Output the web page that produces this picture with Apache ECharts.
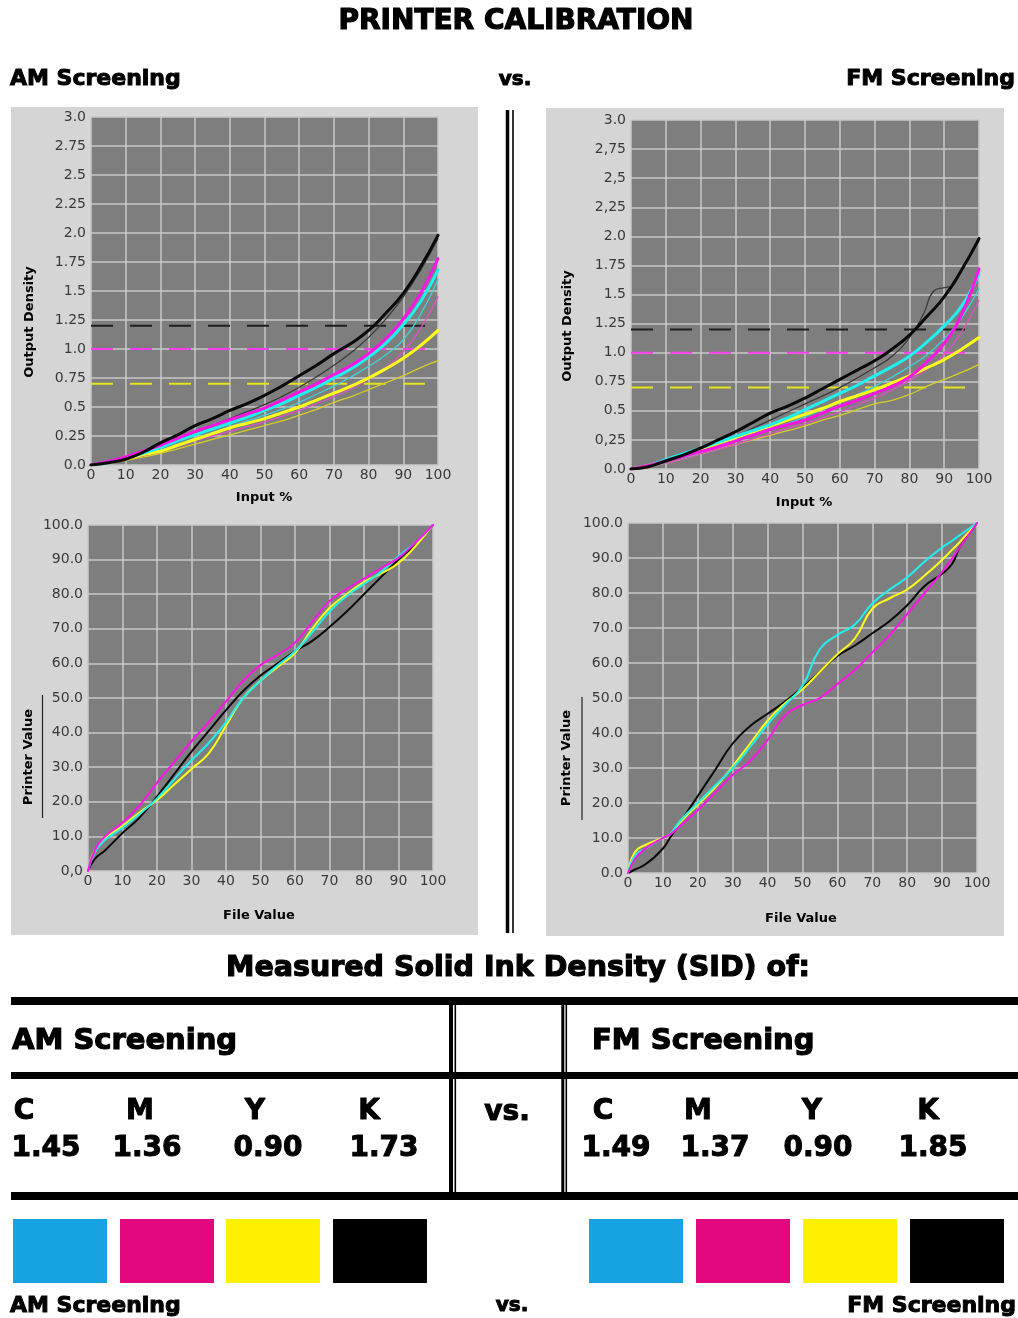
<!DOCTYPE html>
<html>
<head>
<meta charset="utf-8">
<title>Printer Calibration</title>
<script src="https://cdn.jsdelivr.net/npm/echarts@6/dist/echarts.min.js"></script>
<style>
  html, body { margin: 0; padding: 0; background: #ffffff; }
  #chart { width: 1018px; height: 1318px; }
</style>
</head>
<body>
<div id="chart"></div>
<script>
// ---------- Density curves (Input % -> Output Density) ----------
const densityInput = [0, 5, 10, 15, 20, 25, 30, 35, 40, 45, 50, 55, 60, 65, 70, 75, 80, 85, 90, 95, 100];

// AM screening, measured
const amDensityK = [0, 0.02, 0.05, 0.11, 0.19, 0.26, 0.34, 0.40, 0.47, 0.53, 0.60, 0.68, 0.77, 0.86, 0.96, 1.05, 1.16, 1.31, 1.48, 1.71, 1.98];
const amDensityM = [0, 0.03, 0.07, 0.12, 0.17, 0.23, 0.29, 0.34, 0.39, 0.44, 0.49, 0.56, 0.63, 0.70, 0.78, 0.86, 0.96, 1.09, 1.26, 1.48, 1.78];
const amDensityC = [0, 0.02, 0.06, 0.10, 0.15, 0.21, 0.26, 0.31, 0.36, 0.41, 0.47, 0.53, 0.60, 0.67, 0.75, 0.83, 0.93, 1.05, 1.21, 1.41, 1.68];
const amDensityY = [0, 0.02, 0.05, 0.09, 0.12, 0.17, 0.22, 0.27, 0.32, 0.36, 0.40, 0.45, 0.50, 0.56, 0.62, 0.68, 0.75, 0.83, 0.92, 1.03, 1.16];
// AM screening, reference (thin)
const amRefK = [0, 0.02, 0.05, 0.10, 0.16, 0.22, 0.28, 0.34, 0.40, 0.46, 0.52, 0.59, 0.67, 0.76, 0.86, 0.97, 1.10, 1.26, 1.45, 1.68, 1.95];
const amRefC = [0, 0.02, 0.05, 0.09, 0.13, 0.18, 0.23, 0.28, 0.33, 0.38, 0.43, 0.48, 0.54, 0.61, 0.68, 0.76, 0.85, 0.95, 1.08, 1.30, 1.60];
const amRefM = [0, 0.02, 0.05, 0.08, 0.12, 0.16, 0.21, 0.25, 0.29, 0.33, 0.37, 0.42, 0.47, 0.53, 0.59, 0.66, 0.74, 0.84, 0.98, 1.18, 1.45];
const amRefY = [0, 0.02, 0.04, 0.07, 0.10, 0.14, 0.18, 0.22, 0.26, 0.30, 0.34, 0.38, 0.43, 0.48, 0.54, 0.59, 0.65, 0.71, 0.77, 0.84, 0.90];

// FM screening, measured
const fmDensityK = [0, 0.02, 0.07, 0.12, 0.18, 0.25, 0.32, 0.40, 0.48, 0.54, 0.61, 0.69, 0.77, 0.85, 0.93, 1.03, 1.15, 1.31, 1.48, 1.71, 1.98];
const fmDensityC = [0, 0.03, 0.08, 0.13, 0.18, 0.23, 0.28, 0.33, 0.38, 0.44, 0.51, 0.58, 0.65, 0.72, 0.80, 0.88, 0.97, 1.09, 1.23, 1.40, 1.68];
const fmDensityM = [0, 0.03, 0.07, 0.11, 0.15, 0.19, 0.24, 0.29, 0.34, 0.38, 0.42, 0.48, 0.54, 0.59, 0.65, 0.71, 0.79, 0.92, 1.08, 1.33, 1.72];
const fmDensityY = [0, 0.03, 0.07, 0.12, 0.17, 0.22, 0.27, 0.32, 0.37, 0.42, 0.47, 0.52, 0.58, 0.63, 0.68, 0.74, 0.80, 0.87, 0.94, 1.03, 1.13];
// FM screening, reference (thin)
const fmRefKInput = [0, 10, 20, 30, 40, 50, 60, 70, 75, 80, 84, 87, 90, 92, 95, 100];
const fmRefK = [0, 0.06, 0.16, 0.28, 0.42, 0.56, 0.70, 0.87, 0.97, 1.13, 1.33, 1.53, 1.56, 1.57, 1.71, 1.96];
const fmRefC = [0, 0.02, 0.06, 0.10, 0.14, 0.19, 0.24, 0.29, 0.34, 0.39, 0.45, 0.51, 0.57, 0.64, 0.71, 0.79, 0.88, 0.98, 1.12, 1.30, 1.55];
const fmRefM = [0, 0.02, 0.05, 0.09, 0.13, 0.17, 0.21, 0.26, 0.30, 0.35, 0.39, 0.44, 0.49, 0.55, 0.61, 0.68, 0.76, 0.86, 0.98, 1.18, 1.45];
const fmRefY = [0, 0.02, 0.05, 0.09, 0.13, 0.17, 0.21, 0.25, 0.29, 0.33, 0.37, 0.42, 0.46, 0.51, 0.56, 0.59, 0.64, 0.71, 0.77, 0.83, 0.90];

// Target solid densities (dashed): K, M, Y
const targetDensity = [1.2, 1.0, 0.7];

// ---------- Linearization curves (File Value -> Printer Value) ----------
const amFileValue = [0, 2, 5, 10, 15, 20, 25, 30, 35, 40, 45, 50, 55, 60, 65, 70, 75, 80, 85, 90, 95, 100];
const amPrinterK = [0, 3.5, 6, 11, 15.5, 21.5, 28, 34.5, 40.5, 46.5, 52, 56.5, 60, 63.5, 66.5, 70.5, 75, 80, 85, 90, 94.5, 100];
const amPrinterM = [0, 6, 10, 14, 19, 25.5, 31.5, 37.5, 43, 49, 55, 59.5, 62.5, 66, 72, 78, 81.5, 84.5, 87.5, 90.5, 95, 100];
const amPrinterC = [0, 5.5, 9, 12.5, 16.5, 21, 26.5, 32, 37, 43, 50, 55, 59.5, 63.5, 69, 75, 79.5, 83, 86.5, 91, 95, 100];
const amPrinterY = [0, 6, 9.5, 13, 17, 20.5, 25, 29.5, 34, 42, 50, 55, 59, 63, 70, 76, 80, 83.5, 86, 89, 94, 100];

const fmFileValue = [0, 2, 5, 10, 12, 15, 20, 25, 30, 35, 40, 45, 50, 55, 60, 65, 70, 75, 80, 85, 90, 93, 95, 100];
const fmPrinterK = [0, 1, 2.5, 7, 10, 14.5, 22, 29.5, 37, 42, 45.5, 49, 53, 57.5, 62, 65, 68.5, 72, 76.5, 82, 85.5, 88.5, 93, 100];
const fmPrinterM = [0, 4, 7, 10, 11, 13.5, 18, 23, 28, 32, 38, 45, 48, 50, 54, 58, 63, 68, 74, 80, 86, 90, 93, 100];
const fmPrinterC = [0, 5, 7, 10, 11, 15, 20, 25, 30, 36, 42.5, 48, 53.5, 64, 68, 71, 77, 81, 84.5, 89, 93, 95, 96.5, 100];
const fmPrinterY = [0, 6, 8, 10, 11, 14.5, 19.5, 24.5, 30.5, 37, 43.5, 48.5, 52.5, 57.5, 62.5, 67, 75.5, 78.5, 81, 85, 89.5, 92.5, 94.5, 100];

// ---------- Tick labels ----------
const amDensityTicks = ['0.0', '0.25', '0.5', '0.75', '1.0', '1.25', '1.5', '1.75', '2.0', '2.25', '2.5', '2.75', '3.0'];
const fmDensityTicks = ['0.0', '0,25', '0.5', '0.75', '1.0', '1.25', '1.5', '1.75', '2.0', '2,25', '2,5', '2,75', '3.0'];
const amPrinterTicks = ['0,0', '10.0', '20.0', '30.0', '40.0', '50.0', '60.0', '70.0', '80.0', '90.0', '100.0'];
const fmPrinterTicks = ['0.0', '10.0', '20.0', '30.0', '40.0', '50.0', '60.0', '70.0', '80.0', '90.0', '100.0'];

// ---------- Solid ink density table ----------
const inkNames = ['C', 'M', 'Y', 'K'];
const amSID = ['1.45', '1.36', '0.90', '1.73'];
const fmSID = ['1.49', '1.37', '0.90', '1.85'];

// ---------- Styling ----------
const INK = { C: '#1ff0f0', M: '#ff14e6', Y: '#ffff1a', K: '#0a0a0a' };
const INK_THIN = { C: '#3fd2d6', M: '#de52c4', Y: '#d6cc2a', K: '#3a3a3a' };
const TARGET = ['#1e1e1e', '#ff3cf0', '#e4e41c'];
const SWATCH = { C: '#17a3e1', M: '#e4087f', Y: '#fff000', K: '#000000' };
const LABEL_FONT = 'DejaVu Sans';
const HEAD_FONT = 'DejaVu Sans';

const grids = [
  { left: 91, top: 117, width: 347, height: 348 },
  { left: 631, top: 120, width: 348, height: 349 },
  { left: 88, top: 525, width: 345, height: 346 },
  { left: 628, top: 523, width: 349, height: 350 }
];

function xAxisFor(i) {
  return {
    type: 'value', gridIndex: i, min: 0, max: 100, interval: 10,
    axisLine: { show: false }, axisTick: { show: false },
    splitLine: { show: true, lineStyle: { color: '#c9c9c9', width: 1.5 } },
    axisLabel: { color: '#3a3a3a', fontFamily: LABEL_FONT, fontSize: 14, margin: 3 }
  };
}
function yAxisFor(i, max, interval, labels) {
  return {
    type: 'value', gridIndex: i, min: 0, max: max, interval: interval,
    axisLine: { show: false }, axisTick: { show: false },
    splitLine: { show: true, lineStyle: { color: '#c9c9c9', width: 1.5 } },
    axisLabel: {
      color: '#3a3a3a', fontFamily: LABEL_FONT, fontSize: 14, margin: 5,
      formatter: function (v) { return labels[Math.round(v / interval)]; }
    }
  };
}

function curve(gi, xs, ys, color, width) {
  return {
    type: 'line', xAxisIndex: gi, yAxisIndex: gi,
    data: xs.map(function (x, k) { return [x, ys[k]]; }),
    smooth: 0.5, symbol: 'none', silent: true,
    lineStyle: { color: color, width: width, cap: 'round', join: 'round' }
  };
}
function target(gi, value, color) {
  return {
    type: 'line', xAxisIndex: gi, yAxisIndex: gi,
    data: [[0, value], [100, value]], symbol: 'none', silent: true,
    lineStyle: { color: color, width: 2, type: [22, 17] }
  };
}

const series = [];
// Density panels
[[0, amDensityK, amDensityC, amDensityM, amDensityY, densityInput, amRefK, amRefC, amRefM, amRefY],
 [1, fmDensityK, fmDensityC, fmDensityM, fmDensityY, fmRefKInput, fmRefK, fmRefC, fmRefM, fmRefY]
].forEach(function (p) {
  const gi = p[0];
  targetDensity.forEach(function (v, k) { series.push(target(gi, v, TARGET[k])); });
  series.push(curve(gi, densityInput, p[9], INK_THIN.Y, 1.3));
  series.push(curve(gi, densityInput, p[8], INK_THIN.M, 1.3));
  series.push(curve(gi, densityInput, p[7], INK_THIN.C, 1.3));
  series.push(curve(gi, p[5], p[6], INK_THIN.K, 1.3));
  series.push(curve(gi, densityInput, p[4], INK.Y, 3));
  series.push(curve(gi, densityInput, p[2], INK.C, 3));
  series.push(curve(gi, densityInput, p[3], INK.M, 3));
  series.push(curve(gi, densityInput, p[1], INK.K, 3));
});
// Linearization panels
[[2, amFileValue, amPrinterK, amPrinterC, amPrinterM, amPrinterY],
 [3, fmFileValue, fmPrinterK, fmPrinterC, fmPrinterM, fmPrinterY]
].forEach(function (p) {
  const gi = p[0];
  series.push(curve(gi, p[1], p[2], INK.K, 2));
  series.push(curve(gi, p[1], p[5], INK.Y, 2));
  series.push(curve(gi, p[1], p[3], INK.C, 2));
  series.push(curve(gi, p[1], p[4], INK.M, 2));
});

// ---------- Static page elements ----------
function txt(text, x, y, size, opts) {
  opts = opts || {};
  const heavy = opts.heavy !== undefined ? opts.heavy : 0;
  return {
    type: 'text', x: x, y: y, rotation: opts.rotation || 0, z: 50,
    style: {
      text: text, fill: opts.fill || '#000',
      stroke: heavy ? '#000' : null, lineWidth: heavy,
      font: (opts.weight || 'bold') + ' ' + size + 'px "' + (opts.family || HEAD_FONT) + '"',
      textAlign: opts.align || 'left', textVerticalAlign: 'middle'
    }
  };
}
function hline(x1, x2, y, w) {
  return { type: 'line', z: 50, shape: { x1: x1, y1: y, x2: x2, y2: y }, style: { stroke: '#000', lineWidth: w } };
}
function vline(x, y1, y2, w) {
  return { type: 'line', z: 50, shape: { x1: x, y1: y1, x2: x, y2: y2 }, style: { stroke: '#000', lineWidth: w } };
}
function rect(x, y, w, h, fill, z) {
  return { type: 'rect', z: z, shape: { x: x, y: y, width: w, height: h }, style: { fill: fill } };
}

const graphics = [
  // panel backgrounds
  rect(11, 107, 467, 828, '#d5d5d5', -100),
  rect(546, 108, 458, 828, '#d5d5d5', -100),
  // page heading
  txt('PRINTER CALIBRATION', 516, 22, 28, { align: 'center', heavy: 1.2 }),
  txt('AM Screening', 10, 79, 22, { heavy: 1 }),
  txt('vs.', 515, 80, 20, { align: 'center', heavy: 1 }),
  txt('FM Screening', 1015, 79, 22, { align: 'right', heavy: 1 }),
  // centre divider
  vline(507.5, 110, 933, 3.5),
  vline(513, 110, 933, 1.6),
  // axis titles
  txt('Output Density', 30, 322, 13, { rotation: Math.PI / 2, align: 'center' }),
  txt('Input %', 264, 498, 13, { align: 'center' }),
  txt('Output Density', 568, 326, 13, { rotation: Math.PI / 2, align: 'center' }),
  txt('Input %', 804, 503, 13, { align: 'center' }),
  txt('Printer Value', 29, 757, 13, { rotation: Math.PI / 2, align: 'center' }),
  { type: 'line', z: 50, shape: { x1: 42.5, y1: 695, x2: 42.5, y2: 818 }, style: { stroke: '#222', lineWidth: 1.2 } },
  txt('File Value', 259, 916, 13, { align: 'center' }),
  txt('Printer Value', 567, 758, 13, { rotation: Math.PI / 2, align: 'center' }),
  { type: 'line', z: 50, shape: { x1: 582, y1: 697, x2: 582, y2: 820 }, style: { stroke: '#222', lineWidth: 1.2 } },
  txt('File Value', 801, 919, 13, { align: 'center' }),
  // SID table
  txt('Measured Solid Ink Density (SID) of:', 518, 969, 28.5, { align: 'center', heavy: 1.2 }),
  hline(11, 1018, 1001, 8),
  hline(11, 1018, 1075.5, 7),
  hline(11, 1018, 1196, 8),
  vline(451, 1001, 1196, 4),
  vline(455.3, 1001, 1196, 1.6),
  vline(562.8, 1001, 1196, 3),
  vline(566.3, 1001, 1196, 1.6),
  txt('AM Screening', 12, 1041, 29, { heavy: 1.2 }),
  txt('FM Screening', 592, 1041, 29, { heavy: 1.2 }),
  txt('vs.', 507, 1113, 28, { align: 'center', heavy: 1 }),
  // bottom swatches caption
  txt('AM Screening', 10, 1306, 22, { heavy: 1 }),
  txt('vs.', 512, 1306, 20, { align: 'center', heavy: 1 }),
  txt('FM Screening', 1016, 1306, 22, { align: 'right', heavy: 1 })
];

const amNameX = [24, 140, 255, 369];
const amValX = [46, 147, 268, 384];
const fmNameX = [603, 698, 812, 928];
const fmValX = [616, 715, 818, 933];
inkNames.forEach(function (n, k) {
  graphics.push(txt(n, amNameX[k], 1112, 28, { align: 'center', heavy: 1 }));
  graphics.push(txt(amSID[k], amValX[k], 1149, 28, { align: 'center', heavy: 1 }));
  graphics.push(txt(n, fmNameX[k], 1112, 28, { align: 'center', heavy: 1 }));
  graphics.push(txt(fmSID[k], fmValX[k], 1149, 28, { align: 'center', heavy: 1 }));
});
const amSwatchX = [13, 120, 226, 333];
const fmSwatchX = [589, 696, 803, 910];
inkNames.forEach(function (n, k) {
  graphics.push(rect(amSwatchX[k], 1219, 94, 64, SWATCH[n], 40));
  graphics.push(rect(fmSwatchX[k], 1219, 94, 64, SWATCH[n], 40));
});

const chart = echarts.init(document.getElementById('chart'), null, { renderer: 'canvas' });
chart.setOption({
  backgroundColor: '#ffffff',
  animation: false,
  grid: grids.map(function (g) {
    return Object.assign({ show: true, backgroundColor: '#7e7e7e', borderWidth: 0, containLabel: false }, g);
  }),
  xAxis: [xAxisFor(0), xAxisFor(1), xAxisFor(2), xAxisFor(3)],
  yAxis: [
    yAxisFor(0, 3, 0.25, amDensityTicks),
    yAxisFor(1, 3, 0.25, fmDensityTicks),
    yAxisFor(2, 100, 10, amPrinterTicks),
    yAxisFor(3, 100, 10, fmPrinterTicks)
  ],
  graphic: { elements: graphics },
  series: series
});
</script>
</body>
</html>
